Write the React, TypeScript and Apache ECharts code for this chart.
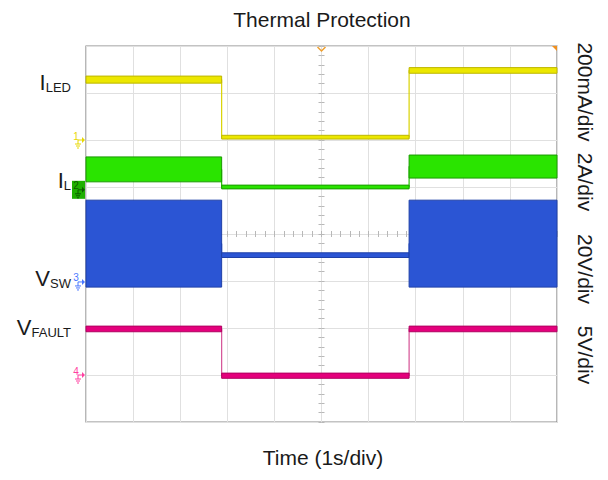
import React, { useEffect, useRef } from "react";
import * as echarts from "echarts";

// Time axis: 1 s/div, 10 divisions. Vertical axis in divisions (0 = bottom, 8 = top).
const segmentTimes = [0, 2.88, 6.86, 10];

// Trace bands per segment [low, high] in divisions
const iledBand = [[7.21, 7.36], [6.02, 6.1], [7.42, 7.54]];
const ilBand = [[5.11, 5.64], [4.96, 5.04], [5.19, 5.68]];
const vswBand = [[2.87, 4.72], [3.5, 3.6], [2.87, 4.72]];
const vfaultBand = [[1.92, 2.04], [0.93, 1.04], [1.92, 2.04]];

// Channel ground reference levels (divisions)
const groundLevels = [6.0, 4.94, 2.98, 1.0];
const channelNumbers = ["1", "2", "3", "4"];

// Scale labels on the right
const scaleLabels = ["200mA/div", "2A/div", "20V/div", "5V/div"];

const FONT = "Liberation Sans, Arial, sans-serif";

const channelStyles = [
  { fill: "#ece700", stroke: "#bdb600", edge: "#d9d200", marker: "#e8d800" },
  { fill: "#2ae400", stroke: "#1a9a00", edge: "#22c400", marker: "#2ae400" },
  { fill: "#2b55d4", stroke: "#1f40a8", edge: "#2b55d4", marker: "#4a78ff" },
  { fill: "#e4007c", stroke: "#b00060", edge: "#d45095", marker: "#ff3fa0" },
];
const bands = [iledBand, ilBand, vswBand, vfaultBand];

function makeMarker(px: number, py: number, num: string, color: string, boxed: boolean) {
  const children: any[] = [];
  const c = boxed ? "#0d5c00" : color;
  if (boxed) {
    children.push({ type: "rect", shape: { x: px - 13, y: py - 9, width: 13, height: 18 }, style: { fill: "#1fb000" } });
  }
  children.push({
    type: "text",
    style: { text: num, x: px - 9, y: py + 1, fill: c, fontSize: 10, fontFamily: FONT, textAlign: "center", textVerticalAlign: "bottom" },
  });
  children.push({ type: "line", shape: { x1: px - 7, y1: py, x2: px - 2, y2: py }, style: { stroke: c, lineWidth: 1 } });
  children.push({ type: "polygon", shape: { points: [[px - 3, py - 3], [px, py], [px - 3, py + 3]] }, style: { fill: c } });
  children.push({ type: "line", shape: { x1: px - 7, y1: py, x2: px - 7, y2: py + 4 }, style: { stroke: c, lineWidth: 1 } });
  children.push({ type: "line", shape: { x1: px - 10, y1: py + 4, x2: px - 4, y2: py + 4 }, style: { stroke: c, lineWidth: 1 } });
  children.push({ type: "line", shape: { x1: px - 9, y1: py + 6, x2: px - 5, y2: py + 6 }, style: { stroke: c, lineWidth: 1 } });
  children.push({ type: "line", shape: { x1: px - 8, y1: py + 8, x2: px - 6, y2: py + 8 }, style: { stroke: c, lineWidth: 1 } });
  return { type: "group", children, z: 20 };
}

function subLabel(main: string, sub: string, x: number, baseline: number) {
  return {
    type: "text",
    z: 20,
    style: {
      text: `{m|${main}}{s|${sub}}`,
      x,
      y: baseline + 3.7,
      textAlign: "right",
      textVerticalAlign: "bottom",
      fill: "#1a1a1a",
      fontFamily: FONT,
      rich: {
        m: { fontSize: 22, lineHeight: 22, verticalAlign: "bottom", fontFamily: FONT, fill: "#1a1a1a" },
        s: { fontSize: 13, lineHeight: 12, verticalAlign: "bottom", fontFamily: FONT, fill: "#1a1a1a" },
      },
    },
  };
}

export default function App() {
  const ref = useRef<HTMLDivElement>(null);
  useEffect(() => {
    if (!ref.current) return;
    const chart = echarts.init(ref.current, undefined, { renderer: "svg" });

    const series: any[] = [];
    bands.forEach((b, ci) => {
      const st = channelStyles[ci];
      const mids = b.map((v) => (v[0] + v[1]) / 2);
      const lineData: number[][] = [];
      for (let i = 0; i < b.length; i++) {
        lineData.push([segmentTimes[i], mids[i]]);
        lineData.push([segmentTimes[i + 1], mids[i]]);
      }
      series.push({
        type: "line",
        data: lineData,
        showSymbol: false,
        symbol: "none",
        lineStyle: { color: st.edge, width: 1.2 },
        z: 2,
        silent: true,
      });
      series.push({
        type: "custom",
        data: b.map((v, i) => [segmentTimes[i], segmentTimes[i + 1], v[0], v[1]]),
        encode: { x: [0, 1], y: [2, 3] },
        z: 3,
        silent: true,
        renderItem: (_p: any, api: any) => {
          const p0 = api.coord([api.value(0), api.value(3)]);
          const p1 = api.coord([api.value(1), api.value(2)]);
          return {
            type: "rect",
            shape: { x: p0[0], y: p0[1], width: p1[0] - p0[0], height: Math.max(p1[1] - p0[1], 1) },
            style: { fill: st.fill, stroke: st.stroke, lineWidth: 1 },
          };
        },
      });
    });

    const tickStyle = { color: "#b8b8b8", width: 1 };
    const centerX = (inside: boolean) => ({
      type: "value",
      min: -5,
      max: 5,
      interval: 1,
      axisLabel: { show: false },
      axisLine: { show: false, onZero: true, onZeroAxisIndex: 1 },
      axisTick: { show: true, inside, length: 3, lineStyle: tickStyle },
      minorTick: { show: true, splitNumber: 5, length: 3, lineStyle: tickStyle },
      splitLine: { show: false },
    });
    const centerY = (inside: boolean) => ({
      type: "value",
      min: -4,
      max: 4,
      interval: 1,
      axisLabel: { show: false },
      axisLine: { show: false, onZero: true, onZeroAxisIndex: 1 },
      axisTick: { show: true, inside, length: 3, lineStyle: tickStyle },
      minorTick: { show: true, splitNumber: 5, length: 3, lineStyle: tickStyle },
      splitLine: { show: false },
    });

    const base: any = {
      animation: false,
      grid: { left: 86, right: 51, top: 46, bottom: 58, show: true, borderColor: "#888888", borderWidth: 1.2, backgroundColor: "transparent" },
      xAxis: [
        {
          type: "value",
          min: 0,
          max: 10,
          interval: 1,
          axisLabel: { show: false },
          axisTick: { show: false },
          axisLine: { show: false, onZero: false },
          splitLine: { show: true, lineStyle: { color: "#e0e0e0", width: 1 } },
        },
        centerX(true),
        centerX(false),
      ],
      yAxis: [
        {
          type: "value",
          min: 0,
          max: 8,
          interval: 1,
          axisLabel: { show: false },
          axisTick: { show: false },
          axisLine: { show: false, onZero: false },
          splitLine: { show: true, lineStyle: { color: "#e0e0e0", width: 1 } },
        },
        centerY(true),
        centerY(false),
      ],
      series,
    };
    chart.setOption(base);

    const graphic: any[] = [];
    graphic.push({
      type: "text",
      style: { text: "Thermal Protection", x: 322, y: 19, textAlign: "center", textVerticalAlign: "middle", fontSize: 21, fontFamily: FONT, fill: "#1a1a1a" },
    });
    graphic.push({
      type: "text",
      style: { text: "Time (1s/div)", x: 323, y: 457, textAlign: "center", textVerticalAlign: "middle", fontSize: 21, fontFamily: FONT, fill: "#1a1a1a" },
    });
    graphic.push(subLabel("I", "LED", 71, 90));
    graphic.push(subLabel("I", "L", 71, 188));
    graphic.push(subLabel("V", "SW", 71, 286));
    graphic.push(subLabel("V", "FAULT", 71, 335));

    const scaleY = [92, 182, 269, 355];
    scaleLabels.forEach((t, i) => {
      graphic.push({
        type: "text",
        x: 585,
        y: scaleY[i],
        rotation: -Math.PI / 2,
        style: { text: t, x: 0, y: 0, textAlign: "center", textVerticalAlign: "middle", fontSize: 21, fontFamily: FONT, fill: "#1a1a1a" },
      });
    });

    groundLevels.forEach((lv, i) => {
      const p = chart.convertToPixel({ xAxisIndex: 0, yAxisIndex: 0 }, [0, lv]) as number[];
      graphic.push(makeMarker(p[0] - 1, p[1], channelNumbers[i], channelStyles[i].marker, i === 1));
    });

    const tp = chart.convertToPixel({ xAxisIndex: 0, yAxisIndex: 0 }, [5, 8]) as number[];
    graphic.push({
      type: "polyline",
      z: 20,
      shape: { points: [[tp[0] - 4, tp[1] + 1], [tp[0], tp[1] + 5], [tp[0] + 4, tp[1] + 1]] },
      style: { stroke: "#f0a030", lineWidth: 1.5, fill: null },
    });
    const cp = chart.convertToPixel({ xAxisIndex: 0, yAxisIndex: 0 }, [10, 8]) as number[];
    graphic.push({
      type: "polygon",
      z: 20,
      shape: { points: [[cp[0] - 5, cp[1]], [cp[0], cp[1]], [cp[0], cp[1] + 5]] },
      style: { fill: "#f09020" },
    });

    chart.setOption({ graphic });
    return () => chart.dispose();
  }, []);
  return <div ref={ref} style={{ width: 608, height: 480, position: "absolute", left: 0, top: 0 }} />;
}
